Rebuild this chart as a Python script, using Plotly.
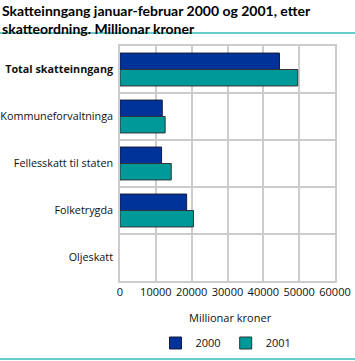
import plotly.graph_objects as go

categories = ["<b>Total skatteinngang</b>", "Kommuneforvaltninga", "Fellesskatt til staten", "Folketrygda", "Oljeskatt"]
values_2000 = [44500, 11800, 11600, 18600, 0]
values_2001 = [49600, 12600, 14300, 20500, 0]
series_names = ["2000", "2001"]
title_text = "Skatteinngang januar-februar 2000 og 2001, etter<br>skatteordning. Millionar kroner"
x_title = "Millionar kroner"

FONT = "Open Sans"
W, H = 355, 361
L, R, T, B = 120, 20, 46, 80
pw, ph = W - L - R, H - T - B

def px_x(x):
    return (x - L) / pw

def px_y(y):
    return (H - B - y) / ph

def line_widths(vals):
    return [1 if v else 0 for v in vals]

fig = go.Figure()
fig.add_trace(go.Bar(y=categories, x=values_2000, name=series_names[0], orientation="h",
                     marker=dict(color="#003399", line=dict(color="#1a1a3a", width=line_widths(values_2000)))))
fig.add_trace(go.Bar(y=categories, x=values_2001, name=series_names[1], orientation="h",
                     marker=dict(color="#009999", line=dict(color="#333333", width=line_widths(values_2001)))))

fig.update_layout(
    width=W, height=H,
    margin=dict(l=L, r=R, t=T, b=B, autoexpand=False),
    paper_bgcolor="white", plot_bgcolor="white",
    font=dict(family=FONT, size=11, color="#111"),
    barmode="group", bargap=0.3, bargroupgap=0,
    legend=dict(orientation="h", x=px_x(226), xanchor="center", y=px_y(343), yanchor="middle",
                font=dict(size=11), itemwidth=30, tracegroupgap=0),
    xaxis=dict(range=[0, 60000], dtick=10000, tickformat="d", showgrid=True, gridcolor="#cccccc",
               gridwidth=1.5, zeroline=False, showline=True, linecolor="#cccccc", linewidth=1.5,
               mirror=True, ticks="", tickfont=dict(size=11), automargin=False),
    yaxis=dict(type="category", autorange="reversed", tickson="boundaries", showgrid=True,
               gridcolor="#cccccc", gridwidth=1.5, showline=True, linecolor="#cccccc",
               linewidth=1.5, mirror=True, ticks="", ticklabelstandoff=3,
               tickfont=dict(size=10.8), automargin=False),
    showlegend=True,
)

fig.add_annotation(text="<b>" + title_text + "</b>", xref="paper", yref="paper", x=px_x(0), y=px_y(0),
                   xanchor="left", yanchor="top", align="left", showarrow=False,
                   font=dict(family="Lato", size=14, color="#000"))
fig.add_annotation(text=x_title, xref="paper", yref="paper", x=px_x(230), y=px_y(317),
                   xanchor="center", yanchor="middle", showarrow=False, font=dict(size=11))

line_color = "#66cccc"
fig.add_shape(type="line", xref="paper", yref="paper", x0=px_x(0), x1=px_x(355),
              y0=px_y(33), y1=px_y(33), line=dict(color=line_color, width=2))
fig.add_shape(type="line", xref="paper", yref="paper", x0=px_x(0), x1=px_x(355),
              y0=px_y(359), y1=px_y(359), line=dict(color=line_color, width=2))

fig.write_html("out.html", config={"displayModeBar": False},
               post_script="document.body.style.margin='0';")
